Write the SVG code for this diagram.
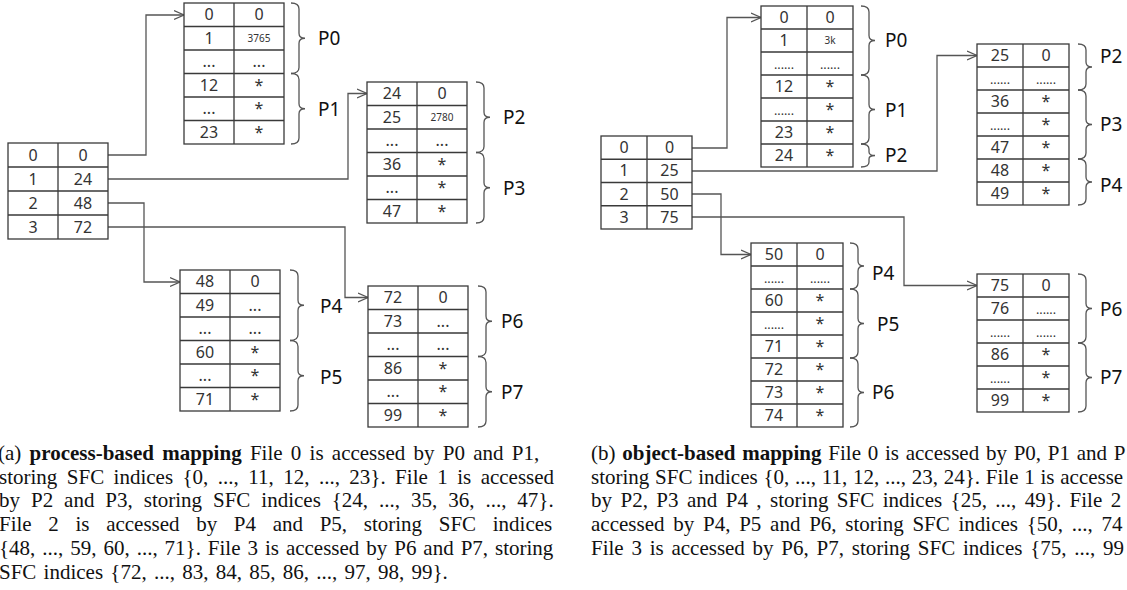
<svg xmlns="http://www.w3.org/2000/svg" width="1127" height="590" viewBox="0 0 1127 590">
<style>
.bx{fill:#fff;stroke:#3a3a3a;stroke-width:1.3}
.ln{stroke:#3a3a3a;stroke-width:1.3}
.t{font-family:"Noto Sans","Open Sans",sans-serif;font-size:16px;fill:#333;text-anchor:middle}
.s{font-size:10px}
.d{font-size:12.5px}
.lbl{font-family:"Noto Sans","Open Sans",sans-serif;font-size:19px;fill:#111}
.br{fill:none;stroke:#555;stroke-width:1.3}
.cn{fill:none;stroke:#555;stroke-width:1.3;marker-end:url(#arr)}
.cap{font-family:"Liberation Serif","Times New Roman",serif;font-size:21px;fill:#111}
.b{font-weight:bold}
</style>
<defs>
<marker id="arr" markerWidth="12" markerHeight="12" refX="10" refY="6" orient="auto" markerUnits="userSpaceOnUse">
<path d="M0,1.5 L10,6 L0,10.5" fill="none" stroke="#555" stroke-width="1.3"/>
</marker>
</defs>

<g id="connectors">
<path class="cn" d="M108,155 H146 V15 H184"/>
<path class="cn" d="M108,179 H348 V93.5 H367"/>
<path class="cn" d="M108,203 H144 V282 H180"/>
<path class="cn" d="M108,227 H345 V297.5 H368"/>
<path class="cn" d="M692,148 H727 V17.5 H761"/>
<path class="cn" d="M692,171 H937 V55.5 H977"/>
<path class="cn" d="M692,194 H721 V254.5 H751"/>
<path class="cn" d="M692,217 H904 V285.5 H977"/>
</g>

<!-- (a) process-based mapping -->
<g id="a-index" transform="translate(8,143)">
<rect class="bx" x="0" y="0" width="100" height="96"/>
<path class="ln" d="M0,24 H100 M0,48 H100 M0,72 H100 M50,0 V96"/>
<text class="t" x="25" y="17.5">0</text><text class="t" x="75" y="17.5">0</text>
<text class="t" x="25" y="41.5">1</text><text class="t" x="75" y="41.5">24</text>
<text class="t" x="25" y="65.5">2</text><text class="t" x="75" y="65.5">48</text>
<text class="t" x="25" y="89.5">3</text><text class="t" x="75" y="89.5">72</text>
</g>

<g id="a-file0" transform="translate(184,3)">
<rect class="bx" x="0" y="0" width="100" height="141"/>
<path class="ln" d="M0,23.5 H100 M0,47 H100 M0,70.5 H100 M0,94 H100 M0,117.5 H100 M50,0 V141"/>
<text class="t" x="25" y="17.25">0</text><text class="t" x="75" y="17.25">0</text>
<text class="t" x="25" y="40.75">1</text><text class="t s" x="75" y="38.75">3765</text>
<text class="t" x="25" y="64.25">...</text><text class="t" x="75" y="64.25">...</text>
<text class="t" x="25" y="87.75">12</text><text class="t" x="75" y="87.75">*</text>
<text class="t" x="25" y="111.25">...</text><text class="t" x="75" y="111.25">*</text>
<text class="t" x="25" y="134.75">23</text><text class="t" x="75" y="134.75">*</text>
</g>
<g id="a-p0"><path class="br" d="M291,3 Q299,3 299,9 V33.25 Q299,38.25 305,38.25 Q299,38.25 299,43.25 V67.5 Q299,73.5 291,73.5"/><text class="lbl" x="318" y="45">P0</text></g>
<g id="a-p1"><path class="br" d="M291,73.5 Q299,73.5 299,79.5 V103.75 Q299,108.75 305,108.75 Q299,108.75 299,113.75 V138 Q299,144 291,144"/><text class="lbl" x="318" y="116">P1</text></g>

<g id="a-file1" transform="translate(367,82)">
<rect class="bx" x="0" y="0" width="100" height="141"/>
<path class="ln" d="M0,23.5 H100 M0,47 H100 M0,70.5 H100 M0,94 H100 M0,117.5 H100 M50,0 V141"/>
<text class="t" x="25" y="17.25">24</text><text class="t" x="75" y="17.25">0</text>
<text class="t" x="25" y="40.75">25</text><text class="t s" x="75" y="38.75">2780</text>
<text class="t" x="25" y="64.25">...</text><text class="t" x="75" y="64.25">...</text>
<text class="t" x="25" y="87.75">36</text><text class="t" x="75" y="87.75">*</text>
<text class="t" x="25" y="111.25">...</text><text class="t" x="75" y="111.25">*</text>
<text class="t" x="25" y="134.75">47</text><text class="t" x="75" y="134.75">*</text>
</g>
<g id="a-p2"><path class="br" d="M476,82 Q484,82 484,88 V112.25 Q484,117.25 490,117.25 Q484,117.25 484,122.25 V146.5 Q484,152.5 476,152.5"/><text class="lbl" x="503" y="124">P2</text></g>
<g id="a-p3"><path class="br" d="M476,152.5 Q484,152.5 484,158.5 V182.75 Q484,187.75 490,187.75 Q484,187.75 484,192.75 V217 Q484,223 476,223"/><text class="lbl" x="503" y="195">P3</text></g>

<g id="a-file2" transform="translate(180,270)">
<rect class="bx" x="0" y="0" width="100" height="141"/>
<path class="ln" d="M0,23.5 H100 M0,47 H100 M0,70.5 H100 M0,94 H100 M0,117.5 H100 M50,0 V141"/>
<text class="t" x="25" y="17.25">48</text><text class="t" x="75" y="17.25">0</text>
<text class="t" x="25" y="40.75">49</text><text class="t" x="75" y="40.75">...</text>
<text class="t" x="25" y="64.25">...</text><text class="t" x="75" y="64.25">...</text>
<text class="t" x="25" y="87.75">60</text><text class="t" x="75" y="87.75">*</text>
<text class="t" x="25" y="111.25">...</text><text class="t" x="75" y="111.25">*</text>
<text class="t" x="25" y="134.75">71</text><text class="t" x="75" y="134.75">*</text>
</g>
<g id="a-p4"><path class="br" d="M290,270 Q298,270 298,276 V300.25 Q298,305.25 304,305.25 Q298,305.25 298,310.25 V334.5 Q298,340.5 290,340.5"/><text class="lbl" x="320" y="313">P4</text></g>
<g id="a-p5"><path class="br" d="M290,340.5 Q298,340.5 298,346.5 V370.75 Q298,375.75 304,375.75 Q298,375.75 298,380.75 V405 Q298,411 290,411"/><text class="lbl" x="320" y="384">P5</text></g>

<g id="a-file3" transform="translate(368,286)">
<rect class="bx" x="0" y="0" width="100" height="141"/>
<path class="ln" d="M0,23.5 H100 M0,47 H100 M0,70.5 H100 M0,94 H100 M0,117.5 H100 M50,0 V141"/>
<text class="t" x="25" y="17.25">72</text><text class="t" x="75" y="17.25">0</text>
<text class="t" x="25" y="40.75">73</text><text class="t" x="75" y="40.75">...</text>
<text class="t" x="25" y="64.25">...</text><text class="t" x="75" y="64.25">...</text>
<text class="t" x="25" y="87.75">86</text><text class="t" x="75" y="87.75">*</text>
<text class="t" x="25" y="111.25">...</text><text class="t" x="75" y="111.25">*</text>
<text class="t" x="25" y="134.75">99</text><text class="t" x="75" y="134.75">*</text>
</g>
<g id="a-p6"><path class="br" d="M478,286 Q486,286 486,292 V316.25 Q486,321.25 492,321.25 Q486,321.25 486,326.25 V350.5 Q486,356.5 478,356.5"/><text class="lbl" x="501" y="328">P6</text></g>
<g id="a-p7"><path class="br" d="M478,356.5 Q486,356.5 486,362.5 V386.75 Q486,391.75 492,391.75 Q486,391.75 486,396.75 V421 Q486,427 478,427"/><text class="lbl" x="501" y="399">P7</text></g>

<!-- (b) object-based mapping -->
<g id="b-index" transform="translate(601,136)">
<rect class="bx" x="0" y="0" width="91" height="93"/>
<path class="ln" d="M0,23.25 H91 M0,46.5 H91 M0,69.75 H91 M46,0 V93"/>
<text class="t" x="23" y="17.1">0</text><text class="t" x="68.5" y="17.1">0</text>
<text class="t" x="23" y="40.4">1</text><text class="t" x="68.5" y="40.4">25</text>
<text class="t" x="23" y="63.6">2</text><text class="t" x="68.5" y="63.6">50</text>
<text class="t" x="23" y="86.9">3</text><text class="t" x="68.5" y="86.9">75</text>
</g>

<g id="b-file0" transform="translate(761,6)">
<rect class="bx" x="0" y="0" width="92" height="161"/>
<path class="ln" d="M0,23 H92 M0,46 H92 M0,69 H92 M0,92 H92 M0,115 H92 M0,138 H92 M46,0 V161"/>
<text class="t" x="23" y="17">0</text><text class="t" x="69" y="17">0</text>
<text class="t" x="23" y="40">1</text><text class="t s" x="69" y="38">3k</text>
<text class="t d" x="23" y="63">......</text><text class="t d" x="69" y="63">......</text>
<text class="t" x="23" y="86">12</text><text class="t" x="69" y="86">*</text>
<text class="t d" x="23" y="109">......</text><text class="t" x="69" y="109">*</text>
<text class="t" x="23" y="132">23</text><text class="t" x="69" y="132">*</text>
<text class="t" x="23" y="155">24</text><text class="t" x="69" y="155">*</text>
</g>
<g id="b-p0"><path class="br" d="M861,6 Q869,6 869,12 V35.5 Q869,40.5 875,40.5 Q869,40.5 869,45.5 V69 Q869,75 861,75"/><text class="lbl" x="885" y="47">P0</text></g>
<g id="b-p1"><path class="br" d="M861,75 Q869,75 869,81 V104.5 Q869,109.5 875,109.5 Q869,109.5 869,114.5 V138 Q869,144 861,144"/><text class="lbl" x="885" y="117">P1</text></g>
<g id="b-p2a"><path class="br" d="M861,144 Q869,144 869,149 V152 Q869,155.5 875,155.5 Q869,155.5 869,159 V162 Q869,167 861,167"/><text class="lbl" x="885" y="162">P2</text></g>

<g id="b-file1" transform="translate(977,44)">
<rect class="bx" x="0" y="0" width="92" height="161"/>
<path class="ln" d="M0,23 H92 M0,46 H92 M0,69 H92 M0,92 H92 M0,115 H92 M0,138 H92 M46,0 V161"/>
<text class="t" x="23" y="17">25</text><text class="t" x="69" y="17">0</text>
<text class="t d" x="23" y="40">......</text><text class="t d" x="69" y="40">......</text>
<text class="t" x="23" y="63">36</text><text class="t" x="69" y="63">*</text>
<text class="t d" x="23" y="86">......</text><text class="t" x="69" y="86">*</text>
<text class="t" x="23" y="109">47</text><text class="t" x="69" y="109">*</text>
<text class="t" x="23" y="132">48</text><text class="t" x="69" y="132">*</text>
<text class="t" x="23" y="155">49</text><text class="t" x="69" y="155">*</text>
</g>
<g id="b-p2"><path class="br" d="M1078,44 Q1086,44 1086,50 V62 Q1086,67 1092,67 Q1086,67 1086,72 V84 Q1086,90 1078,90"/><text class="lbl" x="1100" y="63">P2</text></g>
<g id="b-p3"><path class="br" d="M1078,90 Q1086,90 1086,96 V119.5 Q1086,124.5 1092,124.5 Q1086,124.5 1086,129.5 V153 Q1086,159 1078,159"/><text class="lbl" x="1100" y="131">P3</text></g>
<g id="b-p4a"><path class="br" d="M1078,159 Q1086,159 1086,165 V177 Q1086,182 1092,182 Q1086,182 1086,187 V199 Q1086,205 1078,205"/><text class="lbl" x="1100" y="192">P4</text></g>

<g id="b-file2" transform="translate(751,243)">
<rect class="bx" x="0" y="0" width="92" height="184"/>
<path class="ln" d="M0,23 H92 M0,46 H92 M0,69 H92 M0,92 H92 M0,115 H92 M0,138 H92 M0,161 H92 M46,0 V184"/>
<text class="t" x="23" y="17">50</text><text class="t" x="69" y="17">0</text>
<text class="t d" x="23" y="40">......</text><text class="t d" x="69" y="40">......</text>
<text class="t" x="23" y="63">60</text><text class="t" x="69" y="63">*</text>
<text class="t d" x="23" y="86">......</text><text class="t" x="69" y="86">*</text>
<text class="t" x="23" y="109">71</text><text class="t" x="69" y="109">*</text>
<text class="t" x="23" y="132">72</text><text class="t" x="69" y="132">*</text>
<text class="t" x="23" y="155">73</text><text class="t" x="69" y="155">*</text>
<text class="t" x="23" y="178">74</text><text class="t" x="69" y="178">*</text>
</g>
<g id="b-p4"><path class="br" d="M850,243 Q858,243 858,249 V261 Q858,266 864,266 Q858,266 858,271 V283 Q858,289 850,289"/><text class="lbl" x="872" y="280">P4</text></g>
<g id="b-p5"><path class="br" d="M850,289 Q858,289 858,295 V318.5 Q858,323.5 864,323.5 Q858,323.5 858,328.5 V352 Q858,358 850,358"/><text class="lbl" x="877" y="331">P5</text></g>
<g id="b-p6a"><path class="br" d="M850,358 Q858,358 858,364 V387.5 Q858,392.5 864,392.5 Q858,392.5 858,397.5 V421 Q858,427 850,427"/><text class="lbl" x="872" y="399">P6</text></g>

<g id="b-file3" transform="translate(977,274)">
<rect class="bx" x="0" y="0" width="92" height="138"/>
<path class="ln" d="M0,23 H92 M0,46 H92 M0,69 H92 M0,92 H92 M0,115 H92 M46,0 V138"/>
<text class="t" x="23" y="17">75</text><text class="t" x="69" y="17">0</text>
<text class="t" x="23" y="40">76</text><text class="t d" x="69" y="40">......</text>
<text class="t d" x="23" y="63">......</text><text class="t d" x="69" y="63">......</text>
<text class="t" x="23" y="86">86</text><text class="t" x="69" y="86">*</text>
<text class="t d" x="23" y="109">......</text><text class="t" x="69" y="109">*</text>
<text class="t" x="23" y="132">99</text><text class="t" x="69" y="132">*</text>
</g>
<g id="b-p6"><path class="br" d="M1078,274 Q1086,274 1086,280 V303.5 Q1086,308.5 1092,308.5 Q1086,308.5 1086,313.5 V337 Q1086,343 1078,343"/><text class="lbl" x="1100" y="316">P6</text></g>
<g id="b-p7"><path class="br" d="M1078,343 Q1086,343 1086,349 V372.5 Q1086,377.5 1092,377.5 Q1086,377.5 1086,382.5 V406 Q1086,412 1078,412"/><text class="lbl" x="1100" y="384">P7</text></g>

<g id="caption-a">
<text class="cap" x="-2" y="460" word-spacing="3">(a) <tspan class="b">process-based mapping</tspan> File 0 is accessed by P0 and P1,</text>
<text class="cap" x="-1" y="484" word-spacing="4.2">storing SFC indices {0, ..., 11, 12, ..., 23}. File 1 is accessed</text>
<text class="cap" x="-1" y="507" word-spacing="5.7">by P2 and P3, storing SFC indices {24, ..., 35, 36, ..., 47}.</text>
<text class="cap" x="-1" y="531" word-spacing="11.4">File 2 is accessed by P4 and P5, storing SFC indices</text>
<text class="cap" x="-1" y="555" word-spacing="1.7">{48, ..., 59, 60, ..., 71}. File 3 is accessed by P6 and P7, storing</text>
<text class="cap" x="-1" y="579" word-spacing="2">SFC indices {72, ..., 83, 84, 85, 86, ..., 97, 98, 99}.</text>
</g>
<g id="caption-b">
<text class="cap" x="591" y="460" word-spacing="1.5">(b) <tspan class="b">object-based mapping</tspan> File 0 is accessed by P0, P1 and P</text>
<text class="cap" x="591" y="484" word-spacing="0.5">storing SFC indices {0, ..., 11, 12, ..., 23, 24}. File 1 is accesse</text>
<text class="cap" x="591" y="507" word-spacing="3.2">by P2, P3 and P4 , storing SFC indices {25, ..., 49}. File 2</text>
<text class="cap" x="591" y="531" word-spacing="3.5">accessed by P4, P5 and P6, storing SFC indices {50, ..., 74</text>
<text class="cap" x="591" y="555" word-spacing="2.5">File 3 is accessed by P6, P7, storing SFC indices {75, ..., 99</text>
</g>
</svg>
